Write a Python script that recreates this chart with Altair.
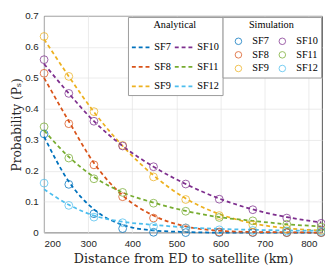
import altair as alt
import pandas as pd

# Distances (km) at which simulation / analytical values are read
distance = [200, 256, 313, 378, 448, 521, 597, 673, 750, 828]

series = ["SF7", "SF8", "SF9", "SF10", "SF11", "SF12"]
colors = ["#0072BD", "#D95319", "#EDB120", "#7E2F8E", "#77AC30", "#4DBEEE"]

# Analytical curves (dashed lines)
ana_sf7 = [0.310, 0.165, 0.075, 0.025, 0.007, 0.002, 0.000, 0.000, 0.000, 0.000]
ana_sf8 = [0.500, 0.360, 0.225, 0.120, 0.055, 0.020, 0.006, 0.002, 0.001, 0.000]
ana_sf9 = [0.625, 0.505, 0.390, 0.280, 0.185, 0.110, 0.060, 0.030, 0.014, 0.007]
ana_sf10 = [0.545, 0.450, 0.360, 0.280, 0.213, 0.157, 0.110, 0.075, 0.050, 0.033]
ana_sf11 = [0.330, 0.245, 0.180, 0.130, 0.097, 0.070, 0.050, 0.038, 0.027, 0.020]
ana_sf12 = [0.140, 0.090, 0.055, 0.035, 0.025, 0.017, 0.012, 0.009, 0.007, 0.006]

# Simulation results (open circles)
sim_sf7 = [0.319, 0.156, 0.061, 0.013, 0.001, 0.000, 0.000, 0.000, 0.000, 0.000]
sim_sf8 = [0.515, 0.352, 0.219, 0.116, 0.047, 0.015, 0.002, 0.001, 0.000, 0.000]
sim_sf9 = [0.634, 0.505, 0.391, 0.282, 0.180, 0.107, 0.055, 0.025, 0.011, 0.007]
sim_sf10 = [0.559, 0.450, 0.360, 0.280, 0.213, 0.157, 0.108, 0.074, 0.047, 0.030]
sim_sf11 = [0.342, 0.241, 0.174, 0.130, 0.095, 0.069, 0.049, 0.038, 0.027, 0.018]
sim_sf12 = [0.160, 0.088, 0.050, 0.032, 0.020, 0.015, 0.009, 0.007, 0.005, 0.004]

x_ticks = [200, 300, 400, 500, 600, 700, 800]
y_ticks = [0, 0.1, 0.2, 0.3, 0.4, 0.5, 0.6, 0.7]

ana = [ana_sf7, ana_sf8, ana_sf9, ana_sf10, ana_sf11, ana_sf12]
sim = [sim_sf7, sim_sf8, sim_sf9, sim_sf10, sim_sf11, sim_sf12]

rows_a, rows_s = [], []
for name, a_vals, s_vals in zip(series, ana, sim):
    for d, a, s in zip(distance, a_vals, s_vals):
        rows_a.append({"d": d, "p": a, "Analytical": name})
        rows_s.append({"d": d, "p": s, "Simulation": name})
df_a = pd.DataFrame(rows_a)
df_s = pd.DataFrame(rows_s)

serif = "DejaVu Serif"
leg_serif = "Liberation Serif"
sans = "Liberation Sans"

x_enc = alt.X("d:Q", scale=alt.Scale(domain=[200, 830], nice=False),
              axis=alt.Axis(title="Distance from ED to satellite (km)", values=x_ticks,
                            tickCount=len(x_ticks), labelOverlap=False, titleFontSize=13))
y_enc = alt.Y("p:Q", scale=alt.Scale(domain=[0, 0.7], nice=False),
              axis=alt.Axis(title="Probability (Pₛ)", values=y_ticks, format=".1~f",
                            tickCount=len(y_ticks), labelOverlap=False, titleFontSize=12.5))

common_leg = dict(orient="none", direction="vertical", columns=2, strokeColor="#9a9a9a",
                  fillColor="white", padding=3, titleFont=leg_serif, titleFontSize=10.5,
                  titleFontWeight="normal", titleColor="#000000", titleAnchor="middle",
                  titlePadding=6, labelFont=leg_serif, labelFontSize=10.5, labelColor="#000000",
                  rowPadding=3, columnPadding=0, legendY=1)

lines = alt.Chart(df_a).mark_line(strokeDash=[4, 3], strokeWidth=1.8, interpolate="monotone").encode(
    x=x_enc, y=y_enc,
    color=alt.Color("Analytical:N",
                    scale=alt.Scale(domain=series, range=colors),
                    legend=alt.Legend(title="Analytical", symbolType="stroke", symbolDash=[4, 3],
                                      symbolSize=440, symbolStrokeWidth=1.8, labelOffset=1,
                                      legendX=86, **common_leg)),
)

points = alt.Chart(df_s).mark_point(shape="circle", filled=False, size=64, strokeWidth=0.9, opacity=0.85).encode(
    x="d:Q", y="p:Q",
    color=alt.Color("Simulation:N",
                    scale=alt.Scale(domain=series, range=colors),
                    legend=alt.Legend(title="Simulation", symbolType="circle", symbolSize=45,
                                      symbolStrokeWidth=0.9, symbolFillColor="transparent",
                                      symbolOffset=8, labelOffset=9,
                                      legendX=183, **common_leg)),
)

chart = alt.layer(lines, points).resolve_scale(color="independent").resolve_legend(
    color="independent"
).properties(
    width=285, height=222,
    autosize=alt.AutoSizeParams(type="none"),
    padding={"left": 37, "top": 5, "right": 3, "bottom": 32},
).configure_view(
    stroke="#262626", strokeWidth=0.8
).configure_axis(
    grid=True, gridColor="#e3e3e3", gridWidth=0.7,
    domain=False, ticks=False,
    labelFont=sans, labelFontSize=10, labelColor="#262626",
    titleFont=serif, titleFontWeight="normal", titleColor="#262626",
).configure_axisY(labelPadding=6, titlePadding=1).configure_axisX(labelPadding=6, titlePadding=5)

chart.save("out.html", embed_options={"renderer": "svg", "actions": False})
